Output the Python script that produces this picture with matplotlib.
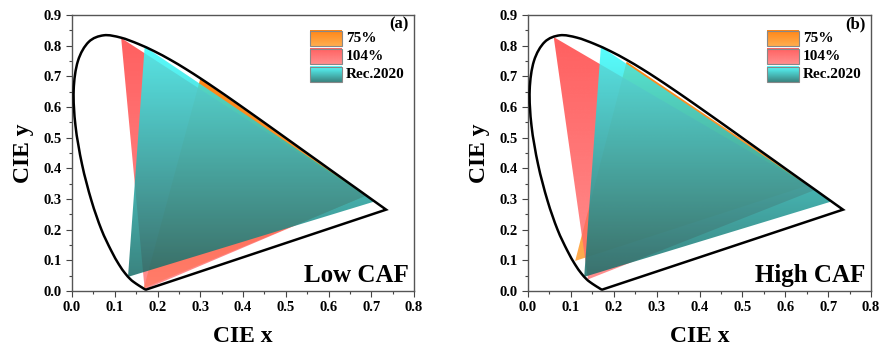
import numpy as np
import matplotlib
matplotlib.use('Agg')
import matplotlib.pyplot as plt
from matplotlib.patches import Polygon, Rectangle, PathPatch
from matplotlib.path import Path

plt.rcParams['font.family'] = 'Liberation Serif'
plt.rcParams['font.weight'] = 'bold'

# CIE 1931 spectral locus (x, y)
locus_x = [0.1741, 0.1733, 0.1714, 0.1689, 0.1644, 0.1566, 0.1440, 0.1355, 0.1241,
           0.1096, 0.0913, 0.0687, 0.0454, 0.0235, 0.0082, 0.0039, 0.0139, 0.0389,
           0.0743, 0.1142, 0.1547, 0.1929, 0.2296, 0.2658, 0.3016, 0.3373, 0.3731,
           0.4087, 0.4441, 0.4788, 0.5125, 0.5448, 0.5752, 0.6029, 0.6270, 0.6482,
           0.6658, 0.6915, 0.7079, 0.7190, 0.7260, 0.7300, 0.7334, 0.7347]
locus_y = [0.0050, 0.0048, 0.0051, 0.0069, 0.0109, 0.0177, 0.0297, 0.0399, 0.0578,
           0.0868, 0.1327, 0.2007, 0.2950, 0.4127, 0.5384, 0.6548, 0.7502, 0.8120,
           0.8338, 0.8262, 0.8059, 0.7816, 0.7543, 0.7243, 0.6923, 0.6589, 0.6245,
           0.5896, 0.5547, 0.5202, 0.4866, 0.4544, 0.4242, 0.3965, 0.3725, 0.3514,
           0.3340, 0.3083, 0.2920, 0.2809, 0.2740, 0.2700, 0.2666, 0.2653]

# gamut triangles: (x list, y list)
rec2020_x = [0.708, 0.170, 0.131]
rec2020_y = [0.292, 0.797, 0.046]

low_75_x = [0.690, 0.300, 0.168]
low_75_y = [0.312, 0.692, 0.010]
low_104_x = [0.685, 0.115, 0.170]
low_104_y = [0.310, 0.825, 0.005]

high_75_x = [0.657, 0.230, 0.110]
high_75_y = [0.346, 0.748, 0.098]
high_104_x = [0.670, 0.060, 0.140]
high_104_y = [0.330, 0.828, 0.038]

labels = ['75%', '104%', 'Rec.2020']

# gradient colours (top, bottom, alpha)
c_orange = ((1.0, 0.48, 0.0), (1.0, 0.65, 0.25), 0.92)
c_red = ((1.0, 0.22, 0.22), (1.0, 0.45, 0.45), 0.8)
c_cyan = ((0.22, 1.0, 1.0), (0.08, 0.42, 0.40), 0.84)


def grad_img(top, bot, alpha):
    t = np.linspace(1, 0, 256)[:, None]
    img = np.zeros((256, 1, 4))
    for k in range(3):
        img[:, :, k] = t * top[k] + (1 - t) * bot[k]
    img[:, :, 3] = alpha
    return img


def grad_fill(ax, xs, ys, col, z):
    top, bot, alpha = col
    im = ax.imshow(grad_img(top, bot, alpha), extent=[min(xs), max(xs), min(ys), max(ys)],
                   origin='upper', aspect='auto', zorder=z, interpolation='bilinear')
    poly = Polygon(np.column_stack([xs, ys]), closed=True, fc='none', ec='none')
    ax.add_patch(poly)
    im.set_clip_path(poly)


def smooth_path(xs, ys):
    # Catmull-Rom through the points as cubic bezier segments, then close with a line
    p = np.column_stack([xs, ys])
    verts = [p[0]]
    codes = [Path.MOVETO]
    n = len(p)
    for i in range(n - 1):
        p0 = p[i - 1] if i > 0 else p[i]
        p3 = p[i + 2] if i + 2 < n else p[i + 1]
        c1 = p[i] + (p[i + 1] - p0) / 6
        c2 = p[i + 1] - (p3 - p[i]) / 6
        verts += [c1, c2, p[i + 1]]
        codes += [Path.CURVE4] * 3
    verts.append(p[0])
    codes.append(Path.LINETO)
    return Path(verts, codes)


def panel(ax, tri75, tri104, tag, name):
    grad_fill(ax, tri75[0], tri75[1], c_orange, 1)
    grad_fill(ax, tri104[0], tri104[1], c_red, 2)
    grad_fill(ax, rec2020_x, rec2020_y, c_cyan, 3)
    ax.add_patch(PathPatch(smooth_path(locus_x, locus_y), fc='none', ec='black',
                           lw=1.8, joinstyle='miter', zorder=5))

    # legend with gradient swatches
    sw_y = [0.848, 0.789, 0.730]
    for col, lab, yt in zip([c_orange, c_red, c_cyan], labels, sw_y):
        ax.imshow(grad_img(*col), extent=[0.557, 0.631, yt - 0.049, yt],
                  origin='upper', aspect='auto', zorder=6)
        ax.add_patch(Rectangle((0.557, yt - 0.049), 0.074, 0.049, fc='none',
                               ec='#888888', lw=0.8, zorder=7))
        ax.text(0.641, yt - 0.025, lab, fontsize=11, fontweight='bold', va='center', zorder=7)

    ax.text(0.787, 0.868, tag, fontsize=12, fontweight='bold', ha='right', va='center')
    ax.text(0.787, 0.052, name, fontsize=18, fontweight='bold', ha='right', va='center')

    ax.set_xlim(0, 0.8)
    ax.set_ylim(0, 0.9)
    ax.set_xticks(np.arange(0, 0.81, 0.1))
    ax.set_yticks(np.arange(0, 0.91, 0.1))
    ax.set_xticks(np.arange(0.05, 0.8, 0.1), minor=True)
    ax.set_yticks(np.arange(0.05, 0.9, 0.1), minor=True)
    ax.tick_params(which='both', direction='out', color='#444444', labelsize=10.5)
    ax.tick_params(which='major', length=4, width=0.8)
    ax.tick_params(which='minor', length=2, width=0.8)
    ax.xaxis.set_major_formatter(plt.FormatStrFormatter('%.1f'))
    ax.yaxis.set_major_formatter(plt.FormatStrFormatter('%.1f'))
    for s in ax.spines.values():
        s.set_color('#555555')
        s.set_linewidth(1.0)
    ax.set_xlabel('CIE x', fontsize=17, fontweight='bold', labelpad=8)
    ax.set_ylabel('CIE y', fontsize=17, fontweight='bold', labelpad=7)


fig = plt.figure(figsize=(8.8, 3.48), dpi=100)
ax1 = fig.add_axes([72 / 880, 1 - 291 / 348, 342 / 880, 276 / 348])
ax2 = fig.add_axes([528 / 880, 1 - 291 / 348, 343 / 880, 276 / 348])

panel(ax1, (low_75_x, low_75_y), (low_104_x, low_104_y), '(a)', 'Low CAF')
panel(ax2, (high_75_x, high_75_y), (high_104_x, high_104_y), '(b)', 'High CAF')

fig.savefig('out.png', dpi=100)
